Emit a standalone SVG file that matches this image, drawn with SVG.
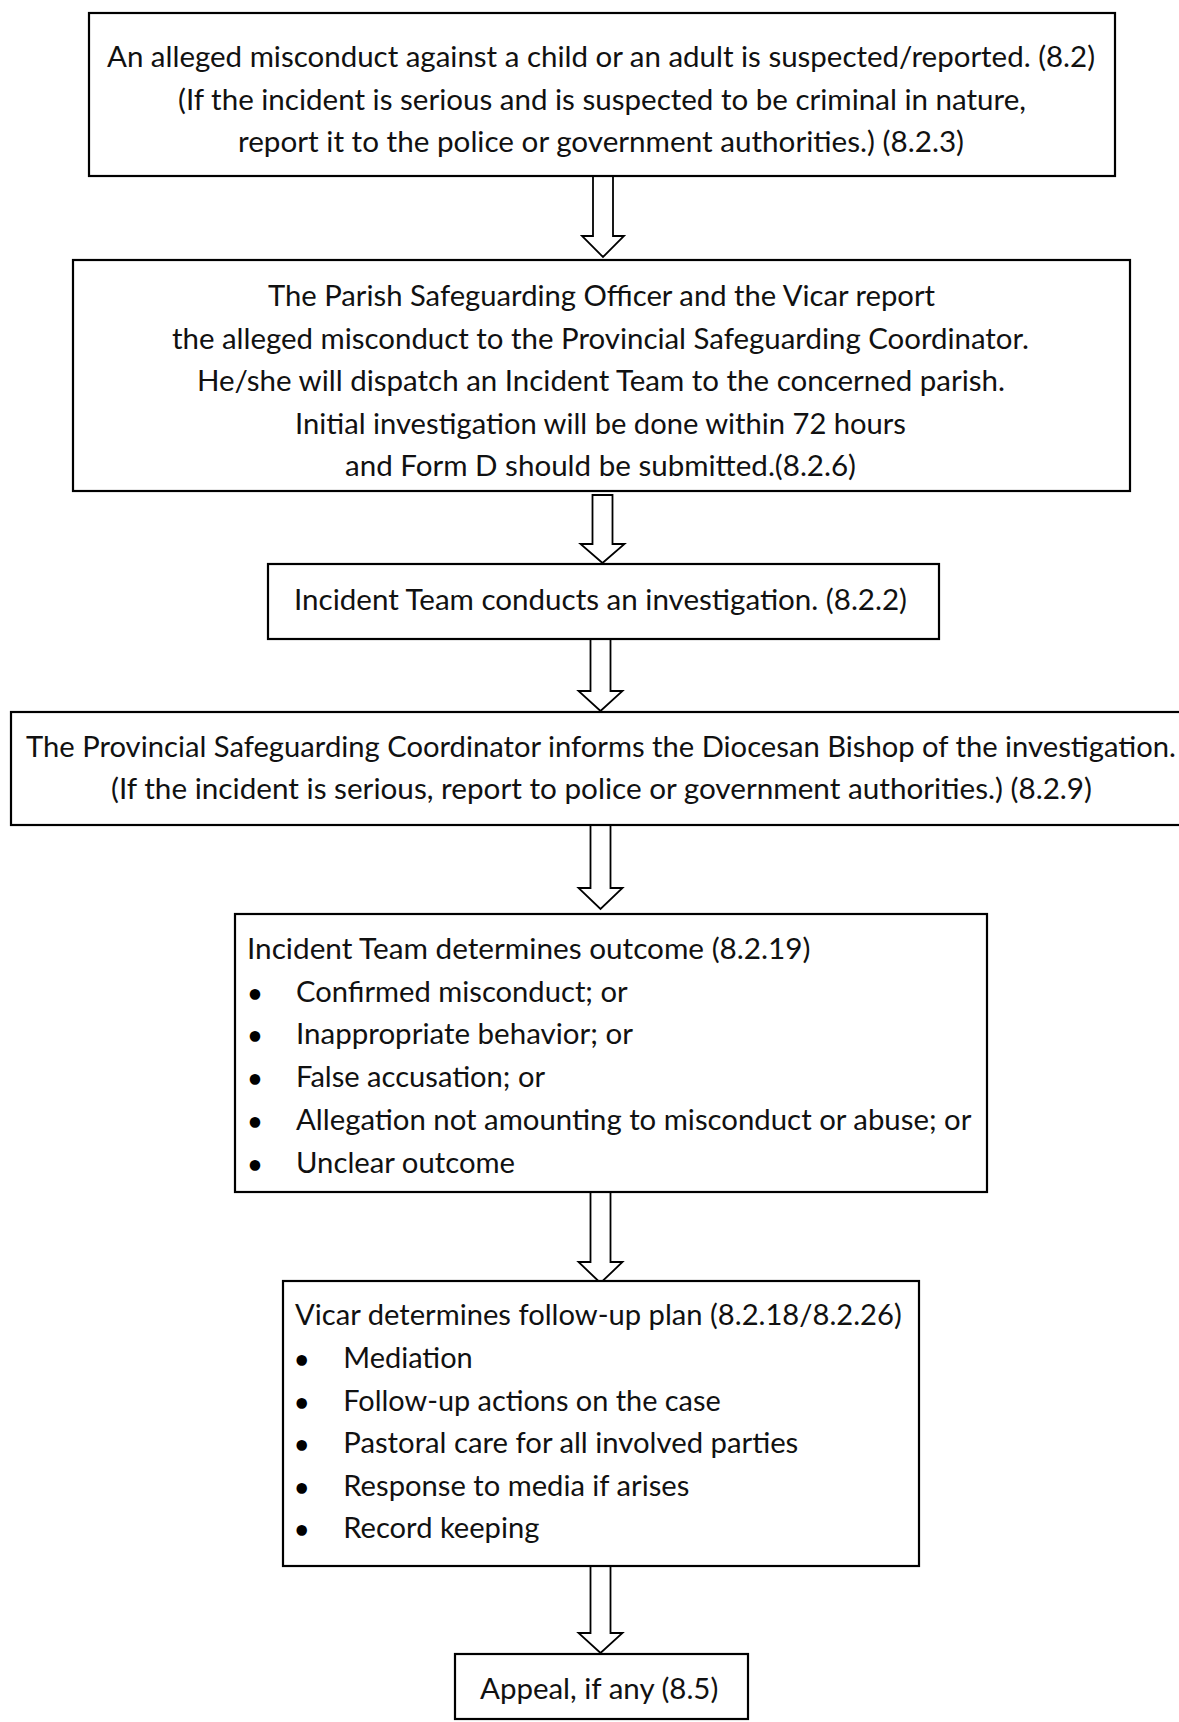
<svg xmlns="http://www.w3.org/2000/svg" width="1179" height="1722" viewBox="0 0 1179 1722">
<style>
  .box { fill: #ffffff; stroke: #000000; stroke-width: 2.2; }
  .arrow { fill: #ffffff; stroke: #000000; stroke-width: 1.8; stroke-linejoin: miter; }
  .t { font-family: Lato, Carlito, "Open Sans", "Liberation Sans", sans-serif; font-weight: 400; font-size: 29.5px; fill: #111111; }
  .b { font-family: Lato, "Liberation Sans", sans-serif; font-weight: 700; font-size: 24px; fill: #000000; text-anchor: middle; }
</style>
<rect x="0" y="0" width="1179" height="1722" fill="#ffffff"/>

<g id="connectors">
  <path class="arrow" d="M593,176 L613,176 L613,236 L624,236 L603,257 L582,236 L593,236 Z"/>
  <path class="arrow" d="M592.5,495 L612.5,495 L612.5,544 L624.5,544 L602.5,563 L580.5,544 L592.5,544 Z"/>
  <path class="arrow" d="M590.5,639 L610.5,639 L610.5,691 L622.5,691 L600.5,711 L578.5,691 L590.5,691 Z"/>
  <path class="arrow" d="M590.5,825 L610.5,825 L610.5,888 L622.5,888 L600.5,909 L578.5,888 L590.5,888 Z"/>
  <path class="arrow" d="M590.5,1192 L610.5,1192 L610.5,1262 L622.5,1262 L600.5,1283 L578.5,1262 L590.5,1262 Z"/>
  <path class="arrow" d="M590.5,1566 L610.5,1566 L610.5,1633 L622.5,1633 L600.5,1653 L578.5,1633 L590.5,1633 Z"/>
</g>

<g id="node-report">
  <rect class="box" x="89" y="13" width="1026" height="163"/>
  <text class="t" x="107" y="67" textLength="988" lengthAdjust="spacingAndGlyphs">An alleged misconduct against a child or an adult is suspected/reported. (8.2)</text>
  <text class="t" x="178" y="109.5" textLength="848" lengthAdjust="spacingAndGlyphs">(If the incident is serious and is suspected to be criminal in nature,</text>
  <text class="t" x="238" y="152" textLength="726" lengthAdjust="spacingAndGlyphs">report it to the police or government authorities.) (8.2.3)</text>
</g>

<g id="node-parish">
  <rect class="box" x="73" y="260" width="1057" height="231"/>
  <text class="t" x="268" y="306" textLength="667" lengthAdjust="spacingAndGlyphs">The Parish Safeguarding Officer and the Vicar report</text>
  <text class="t" x="172" y="348.5" textLength="857" lengthAdjust="spacingAndGlyphs">the alleged misconduct to the Provincial Safeguarding Coordinator.</text>
  <text class="t" x="197" y="391" textLength="808" lengthAdjust="spacingAndGlyphs">He/she will dispatch an Incident Team to the concerned parish.</text>
  <text class="t" x="295" y="433.5" textLength="611" lengthAdjust="spacingAndGlyphs">Initial investigation will be done within 72 hours</text>
  <text class="t" x="345" y="476" textLength="511" lengthAdjust="spacingAndGlyphs">and Form D should be submitted.(8.2.6)</text>
</g>

<g id="node-investigation">
  <rect class="box" x="268" y="564" width="671" height="75"/>
  <text class="t" x="294" y="610" textLength="613" lengthAdjust="spacingAndGlyphs">Incident Team conducts an investigation. (8.2.2)</text>
</g>

<g id="node-bishop">
  <rect class="box" x="11" y="712" width="1190" height="113"/>
  <text class="t" x="26" y="757" textLength="1150" lengthAdjust="spacingAndGlyphs">The Provincial Safeguarding Coordinator informs the Diocesan Bishop of the investigation.</text>
  <text class="t" x="111" y="798.5" textLength="981" lengthAdjust="spacingAndGlyphs">(If the incident is serious, report to police or government authorities.) (8.2.9)</text>
</g>

<g id="node-outcome">
  <rect class="box" x="235" y="914" width="752" height="278"/>
  <text class="t" x="247" y="958.5" textLength="563.5" lengthAdjust="spacingAndGlyphs">Incident Team determines outcome (8.2.19)</text>
  <text class="b" x="255" y="1001.5">•</text>
  <text class="t" x="296" y="1001.5" textLength="331.6" lengthAdjust="spacingAndGlyphs">Confirmed misconduct; or</text>
  <text class="b" x="255" y="1044.3">•</text>
  <text class="t" x="296" y="1044.3" textLength="337" lengthAdjust="spacingAndGlyphs">Inappropriate behavior; or</text>
  <text class="b" x="255" y="1087.3">•</text>
  <text class="t" x="296" y="1087.3" textLength="249" lengthAdjust="spacingAndGlyphs">False accusation; or</text>
  <text class="b" x="255" y="1130">•</text>
  <text class="t" x="296" y="1130" textLength="675.4" lengthAdjust="spacingAndGlyphs">Allegation not amounting to misconduct or abuse; or</text>
  <text class="b" x="255" y="1172.7">•</text>
  <text class="t" x="296" y="1172.7" textLength="219" lengthAdjust="spacingAndGlyphs">Unclear outcome</text>
</g>

<g id="node-followup">
  <rect class="box" x="283" y="1281" width="636" height="285"/>
  <text class="t" x="295" y="1325" textLength="606.7" lengthAdjust="spacingAndGlyphs">Vicar determines follow-up plan (8.2.18/8.2.26)</text>
  <text class="b" x="301.7" y="1368.3">•</text>
  <text class="t" x="343.3" y="1368.3" textLength="129.4" lengthAdjust="spacingAndGlyphs">Mediation</text>
  <text class="b" x="301.7" y="1410.7">•</text>
  <text class="t" x="343.3" y="1410.7" textLength="377.4" lengthAdjust="spacingAndGlyphs">Follow-up actions on the case</text>
  <text class="b" x="301.7" y="1453.3">•</text>
  <text class="t" x="343.3" y="1453.3" textLength="455" lengthAdjust="spacingAndGlyphs">Pastoral care for all involved parties</text>
  <text class="b" x="301.7" y="1495.7">•</text>
  <text class="t" x="343.3" y="1495.7" textLength="346" lengthAdjust="spacingAndGlyphs">Response to media if arises</text>
  <text class="b" x="301.7" y="1538.3">•</text>
  <text class="t" x="343.3" y="1538.3" textLength="196" lengthAdjust="spacingAndGlyphs">Record keeping</text>
</g>

<g id="node-appeal">
  <rect class="box" x="455" y="1654" width="293" height="65"/>
  <text class="t" x="480" y="1699" textLength="238.3" lengthAdjust="spacingAndGlyphs">Appeal, if any (8.5)</text>
</g>
</svg>
